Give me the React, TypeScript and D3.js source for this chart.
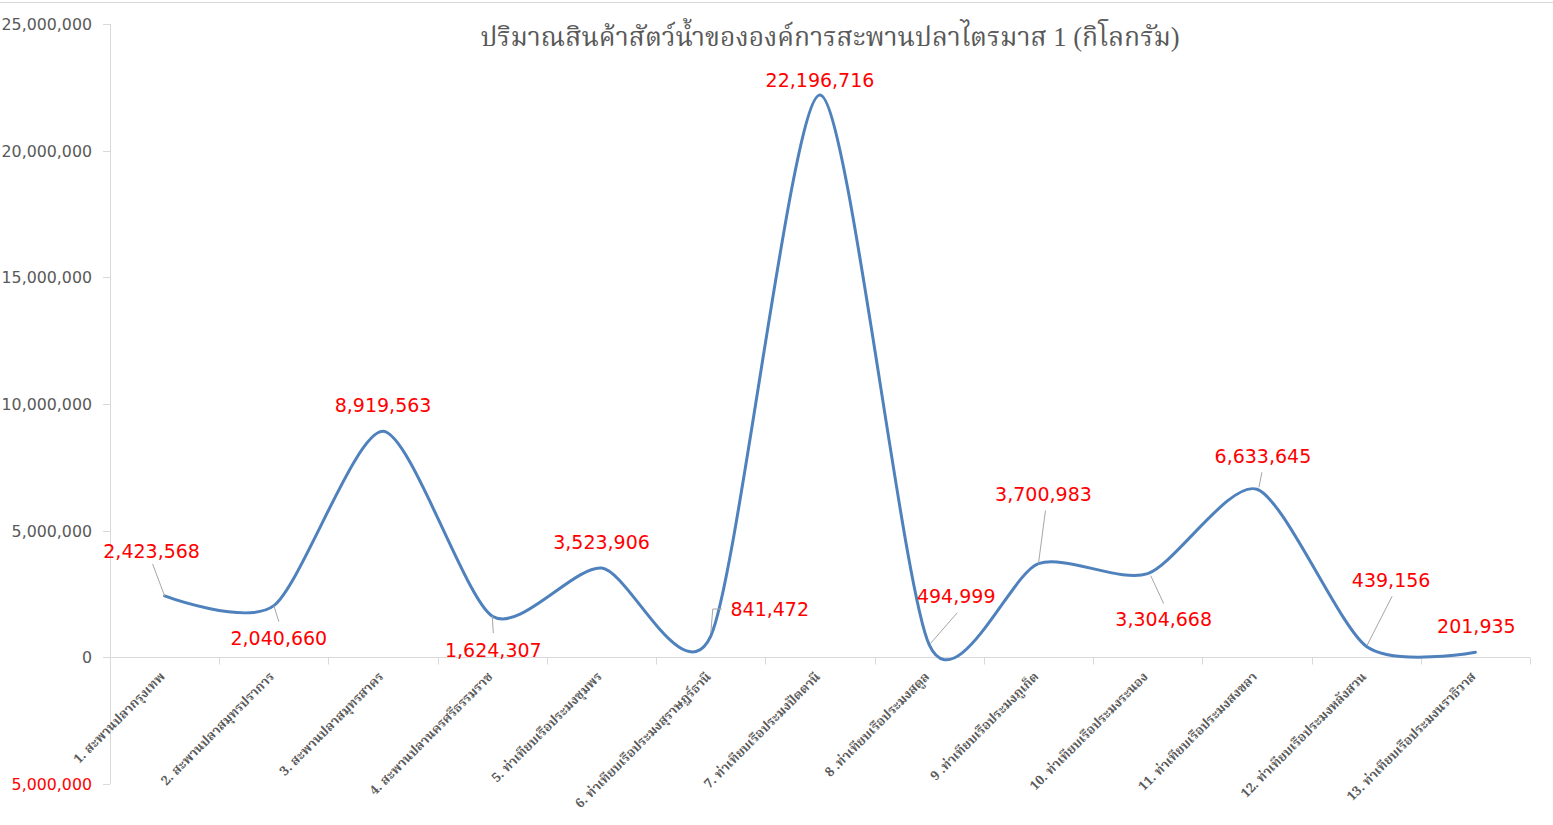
import React, { useEffect, useRef } from "react";
import * as d3 from "d3";

const categories: string[] = [
  "1. สะพานปลากรุงเทพ",
  "2. สะพานปลาสมุทรปราการ",
  "3. สะพานปลาสมุทรสาคร",
  "4. สะพานปลานครศรีธรรมราช",
  "5. ท่าเทียบเรือประมงชุมพร",
  "6. ท่าเทียบเรือประมงสุราษฎร์ธานี",
  "7. ท่าเทียบเรือประมงปัตตานี",
  "8 .ท่าเทียบเรือประมงสตูล",
  "9 .ท่าเทียบเรือประมงภูเก็ต",
  "10. ท่าเทียบเรือประมงระนอง",
  "11. ท่าเทียบเรือประมงสงขลา",
  "12. ท่าเทียบเรือประมงหลังสวน",
  "13. ท่าเทียบเรือประมงนราธิวาส",
];
const values: number[] = [
  2423568, 2040660, 8919563, 1624307, 3523906, 841472, 22196716, 494999,
  3700983, 3304668, 6633645, 439156, 201935,
];
const yTicks: number[] = [-5000000, 0, 5000000, 10000000, 15000000, 20000000, 25000000];
const title = "ปริมาณสินค้าสัตว์น้ำขององค์การสะพานปลาไตรมาส 1 (กิโลกรัม)";

// label placement offsets relative to each point (layout, not data)
const labelOffsets: [number, number][] = [
  [-13, -45], [5, 33], [0, -26], [1, 34], [0, -26], [59, -27], [0, -15],
  [27, -49], [5, -69], [16, 46], [6, -33], [25, -66], [1, -26],
];
const leaders: ([number, number][] | null)[] = [
  [[0, 0], [-12, -32]],
  [[0, 0], [5, 16]],
  null,
  [[0, 0], [1, 17]],
  null,
  [[0, -3], [2, -27], [11, -27]],
  null,
  [[1, -1], [28, -32]],
  [[0, 0], [7, -53]],
  [[3, 2], [16, 30]],
  [[2, -2], [5, -17]],
  [[1, -1], [26, -50]],
  null,
];

const W = 1553;
const H = 825;

export default function App() {
  const ref = useRef<SVGSVGElement>(null);
  useEffect(() => {
    const svg = d3.select(ref.current);
    svg.selectAll("*").remove();
    const x = d3.scaleBand<string>().domain(categories).range([110, 1530]);
    const y = d3.scaleLinear().domain([-5000000, 25000000]).range([784, 24]);
    const cx = (i: number) => (x(categories[i]) as number) + x.bandwidth() / 2;

    svg.append("rect").attr("x", 0).attr("y", 0).attr("width", W).attr("height", H).attr("fill", "#fff");
    svg.append("line").attr("x1", 0).attr("x2", W).attr("y1", 2.5).attr("y2", 2.5).attr("stroke", "#d9d9d9");

    // y axis
    const axisColor = "#d9d9d9";
    svg.append("line").attr("x1", 110.5).attr("x2", 110.5).attr("y1", y(25000000)).attr("y2", y(-5000000)).attr("stroke", axisColor);
    yTicks.forEach((t) => {
      const yy = Math.round(y(t)) + 0.5;
      svg.append("line").attr("x1", 103).attr("x2", 110).attr("y1", yy).attr("y2", yy).attr("stroke", axisColor);
      svg.append("text")
        .attr("x", 92).attr("y", yy).attr("dy", "0.35em")
        .attr("text-anchor", "end")
        .attr("font-family", "DejaVu Sans")
        .attr("font-size", 15.8)
        .attr("fill", t < 0 ? "#ff0000" : "#595959")
        .text(d3.format(",")(Math.abs(t)));
    });

    // x axis
    const y0 = Math.round(y(0)) + 0.5;
    svg.append("line").attr("x1", 110).attr("x2", 1530).attr("y1", y0).attr("y2", y0).attr("stroke", axisColor);
    categories.forEach((c) => {
      const xx = Math.round((x(c) as number)) + 0.5;
      svg.append("line").attr("x1", xx).attr("x2", xx).attr("y1", y0).attr("y2", y0 + 7).attr("stroke", axisColor);
    });
    svg.append("line").attr("x1", 1530.5).attr("x2", 1530.5).attr("y1", y0).attr("y2", y0 + 7).attr("stroke", axisColor);

    categories.forEach((c, i) => {
      const px = cx(i) + 1;
      const py = y0 + 20;
      svg.append("text")
        .attr("transform", `translate(${px},${py}) rotate(-45)`)
        .attr("text-anchor", "end")
        .attr("font-family", "'Noto Serif Thai', 'Noto Sans Thai', serif")
        .attr("font-size", 13)
        .attr("font-weight", "bold")
        .attr("fill", "#595959")
        .text(c);
    });

    // line
    const line = d3.line<number>()
      .x((_, i) => cx(i))
      .y((d) => y(d))
      .curve(d3.curveCardinal.tension(0.25));
    svg.append("path").datum(values).attr("d", line).attr("fill", "none").attr("stroke", "#4f81bd").attr("stroke-width", 3).attr("stroke-linecap", "round");

    // leaders and labels
    values.forEach((v, i) => {
      const px = cx(i);
      const py = y(v);
      const ld = leaders[i];
      if (ld) {
        svg.append("polyline")
          .attr("points", ld.map(([dx, dy]) => `${px + dx},${py + dy}`).join(" "))
          .attr("fill", "none").attr("stroke", "#a6a6a6").attr("stroke-width", 1);
      }
      const [ox, oy] = labelOffsets[i];
      svg.append("text")
        .attr("x", px + ox).attr("y", py + oy).attr("dy", "0.36em")
        .attr("text-anchor", "middle")
        .attr("font-family", "DejaVu Sans")
        .attr("font-size", 19)
        .attr("fill", "#ff0000")
        .text(d3.format(",")(v));
    });

    svg.append("text")
      .attr("x", 830).attr("y", 37).attr("dy", "0.35em")
      .attr("text-anchor", "middle")
      .attr("font-family", "'Liberation Serif', 'Noto Serif Thai', serif")
      .attr("font-size", 26.5)
      .attr("fill", "#595959")
      .text(title);
  }, []);
  return (
    <svg ref={ref} width={W} height={H} style={{ position: "absolute", left: 0, top: 0 }} />
  );
}
